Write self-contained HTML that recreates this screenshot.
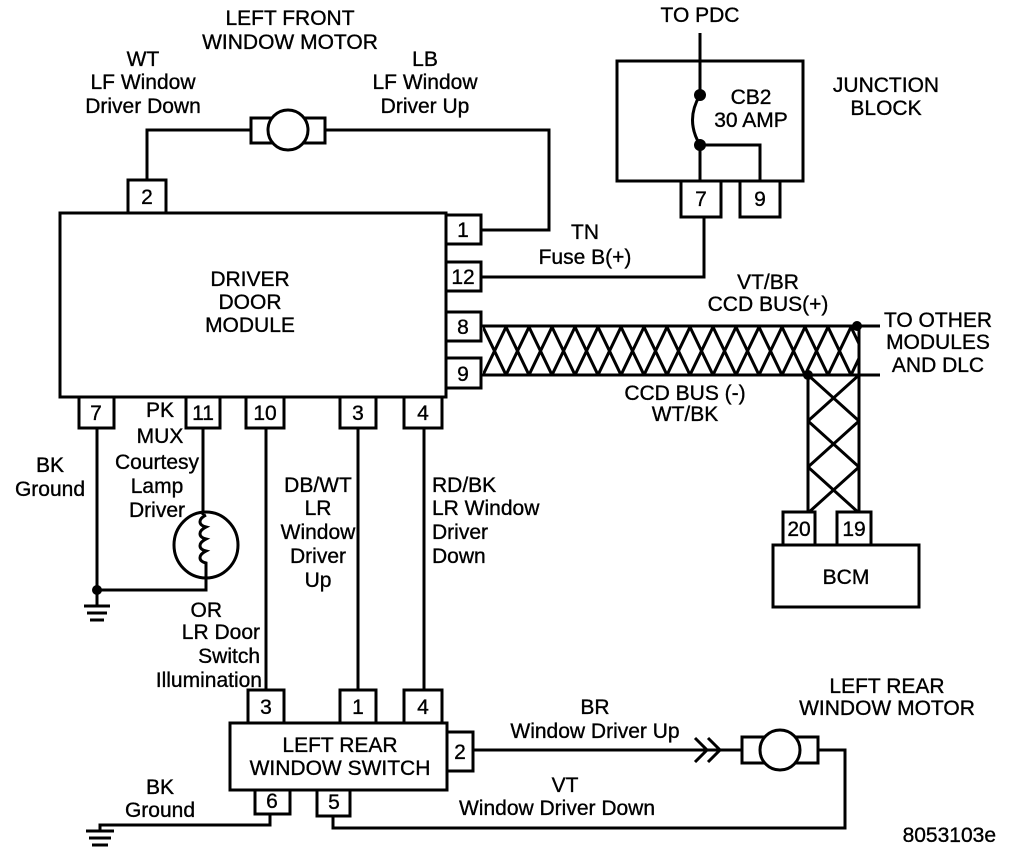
<!DOCTYPE html>
<html><head><meta charset="utf-8"><style>
html,body{margin:0;padding:0;background:#fff;}
svg{display:block;}
text{font-family:"Liberation Sans",Arial,sans-serif;font-size:21px;fill:#000;stroke:#000;stroke-width:0.35;}
</style></head><body>
<svg width="1024" height="858" viewBox="0 0 1024 858" xmlns="http://www.w3.org/2000/svg">
<defs>
<pattern id="tw" x="483" y="327" width="23" height="48" patternUnits="userSpaceOnUse">
<path d="M0 0 L23 48 M23 0 L0 48" stroke="#000" stroke-width="3" fill="none"/>
</pattern>
<pattern id="tv" x="808" y="375" width="51" height="46" patternUnits="userSpaceOnUse">
<path d="M0 0 L51 46 M51 0 L0 46" stroke="#000" stroke-width="3" fill="none"/>
</pattern>
</defs>
<g fill="none" stroke="#000" stroke-width="3">
<rect x="60" y="213" width="386" height="184"/>
<rect x="128" y="180" width="38" height="33"/>
<rect x="446" y="215" width="35" height="29"/>
<rect x="446" y="262" width="35" height="29"/>
<rect x="446" y="312" width="35" height="29"/>
<rect x="446" y="358" width="35" height="30"/>
<rect x="79" y="397" width="35" height="31"/>
<rect x="186" y="397" width="34" height="31"/>
<rect x="246" y="397" width="38" height="31"/>
<rect x="340" y="397" width="36" height="31"/>
<rect x="404" y="397" width="38" height="31"/>
<path d="M147 180 V130 H251"/>
<rect x="251" y="118" width="74" height="25"/>
<circle cx="288" cy="130" r="20" fill="#fff"/>
<path d="M325 130 H549 V230 H481"/>
<rect x="617" y="61" width="186" height="120"/>
<rect x="681" y="181" width="40" height="36"/>
<rect x="740" y="181" width="40" height="36"/>
<path d="M700 33 V95"/>
<path d="M700 95 Q685 120 700 145"/>
<path d="M700 145 V181 M700 145 H760 V181"/>
<path d="M704 217 V277 H481"/>
<path d="M481 326 H880 M481 375 H880"/>
<path d="M808 375 V512 M859 326 V512"/>
</g>
<rect x="483" y="327" width="376" height="48" fill="url(#tw)"/>
<rect x="808" y="375" width="51" height="137" fill="url(#tv)"/>
<circle cx="857" cy="326" r="5"/>
<circle cx="808" cy="375" r="5"/>
<circle cx="700" cy="95" r="6"/>
<circle cx="700" cy="145" r="6"/>
<g fill="none" stroke="#000" stroke-width="3">
<rect x="783" y="512" width="32" height="33"/>
<rect x="837" y="512" width="34" height="33"/>
<rect x="773" y="545" width="146" height="62"/>
<path d="M97 428 V605"/>
<path d="M84 606 H110 M87 613 H107 M90 620 H104"/>
<path d="M203 428 V515"/>
<ellipse cx="206" cy="545" rx="32" ry="33"/>
<path d="M206 515 c-8 4 -8 10 0 12 c-8 4 -8 10 0 12 c-8 4 -8 10 0 12 c-8 4 -8 10 0 12 V590 H97"/>
<path d="M266 428 V690 M358 428 V690 M424 428 V690"/>
<rect x="230" y="723" width="217" height="67"/>
<rect x="248" y="690" width="36" height="33"/>
<rect x="340" y="690" width="36" height="33"/>
<rect x="404" y="690" width="38" height="33"/>
<rect x="447" y="732" width="26" height="39"/>
<rect x="255" y="790" width="35" height="24"/>
<rect x="317" y="790" width="33" height="26"/>
<path d="M473 750 H742"/>
<path d="M695 738 L707 750 L695 762 M708 738 L720 750 L708 762"/>
<rect x="742" y="737" width="76" height="26"/>
<circle cx="780" cy="750" r="20" fill="#fff"/>
<path d="M818 750 H845 V828 H333 V816"/>
<path d="M270 814 V825 H100 V830"/>
<path d="M86 831 H114 M89 838 H111 M92 845 H108"/>
</g>
<circle cx="97" cy="590" r="5"/>
<g text-anchor="middle">
<text x="290" y="25">LEFT FRONT</text>
<text x="290" y="49">WINDOW MOTOR</text>
<text x="143" y="66">WT</text>
<text x="143" y="89">LF Window</text>
<text x="143" y="113">Driver Down</text>
<text x="425" y="66">LB</text>
<text x="425" y="89">LF Window</text>
<text x="425" y="113">Driver Up</text>
<text x="250" y="286">DRIVER</text>
<text x="250" y="309">DOOR</text>
<text x="250" y="332">MODULE</text>
<text x="147" y="204">2</text>
<text x="463" y="237">1</text>
<text x="463" y="284">12</text>
<text x="463" y="334">8</text>
<text x="463" y="381">9</text>
<text x="96" y="420">7</text>
<text x="203" y="420">11</text>
<text x="265" y="420">10</text>
<text x="358" y="420">3</text>
<text x="423" y="420">4</text>
<text x="700" y="22">TO PDC</text>
<text x="751" y="104">CB2</text>
<text x="751" y="127">30 AMP</text>
<text x="886" y="92">JUNCTION</text>
<text x="886" y="115">BLOCK</text>
<text x="701" y="206">7</text>
<text x="760" y="206">9</text>
<text x="585" y="239">TN</text>
<text x="585" y="264">Fuse B(+)</text>
<text x="768" y="289">VT/BR</text>
<text x="768" y="311">CCD BUS(+)</text>
<text x="685" y="400">CCD BUS (-)</text>
<text x="685" y="421">WT/BK</text>
<text x="938" y="327">TO OTHER</text>
<text x="938" y="349">MODULES</text>
<text x="938" y="372">AND DLC</text>
<text x="799" y="536">20</text>
<text x="854" y="536">19</text>
<text x="846" y="584">BCM</text>
<text x="160" y="417">PK</text>
<text x="160" y="443">MUX</text>
<text x="157" y="469">Courtesy</text>
<text x="157" y="493">Lamp</text>
<text x="157" y="517">Driver</text>
<text x="50" y="472">BK</text>
<text x="50" y="496">Ground</text>
<text x="318" y="492">DB/WT</text>
<text x="318" y="515">LR</text>
<text x="318" y="539">Window</text>
<text x="318" y="563">Driver</text>
<text x="318" y="587">Up</text>
<text x="266" y="714">3</text>
<text x="358" y="714">1</text>
<text x="423" y="714">4</text>
<text x="460" y="759">2</text>
<text x="272" y="808">6</text>
<text x="334" y="809">5</text>
<text x="340" y="752">LEFT REAR</text>
<text x="340" y="775">WINDOW SWITCH</text>
<text x="595" y="714">BR</text>
<text x="595" y="738">Window Driver Up</text>
<text x="565" y="792">VT</text>
<text x="557" y="815">Window Driver Down</text>
<text x="160" y="794">BK</text>
<text x="160" y="817">Ground</text>
<text x="887" y="693">LEFT REAR</text>
<text x="887" y="715">WINDOW MOTOR</text>
</g>
<g text-anchor="start">
<text x="432" y="492">RD/BK</text>
<text x="432" y="515">LR Window</text>
<text x="432" y="539">Driver</text>
<text x="432" y="563">Down</text>
</g>
<g text-anchor="end">
<text x="222" y="617">OR</text>
<text x="260" y="639">LR Door</text>
<text x="260" y="663">Switch</text>
<text x="262" y="687">Illumination</text>
<text x="996" y="842">8053103e</text>
</g>
</svg>
</body></html>
